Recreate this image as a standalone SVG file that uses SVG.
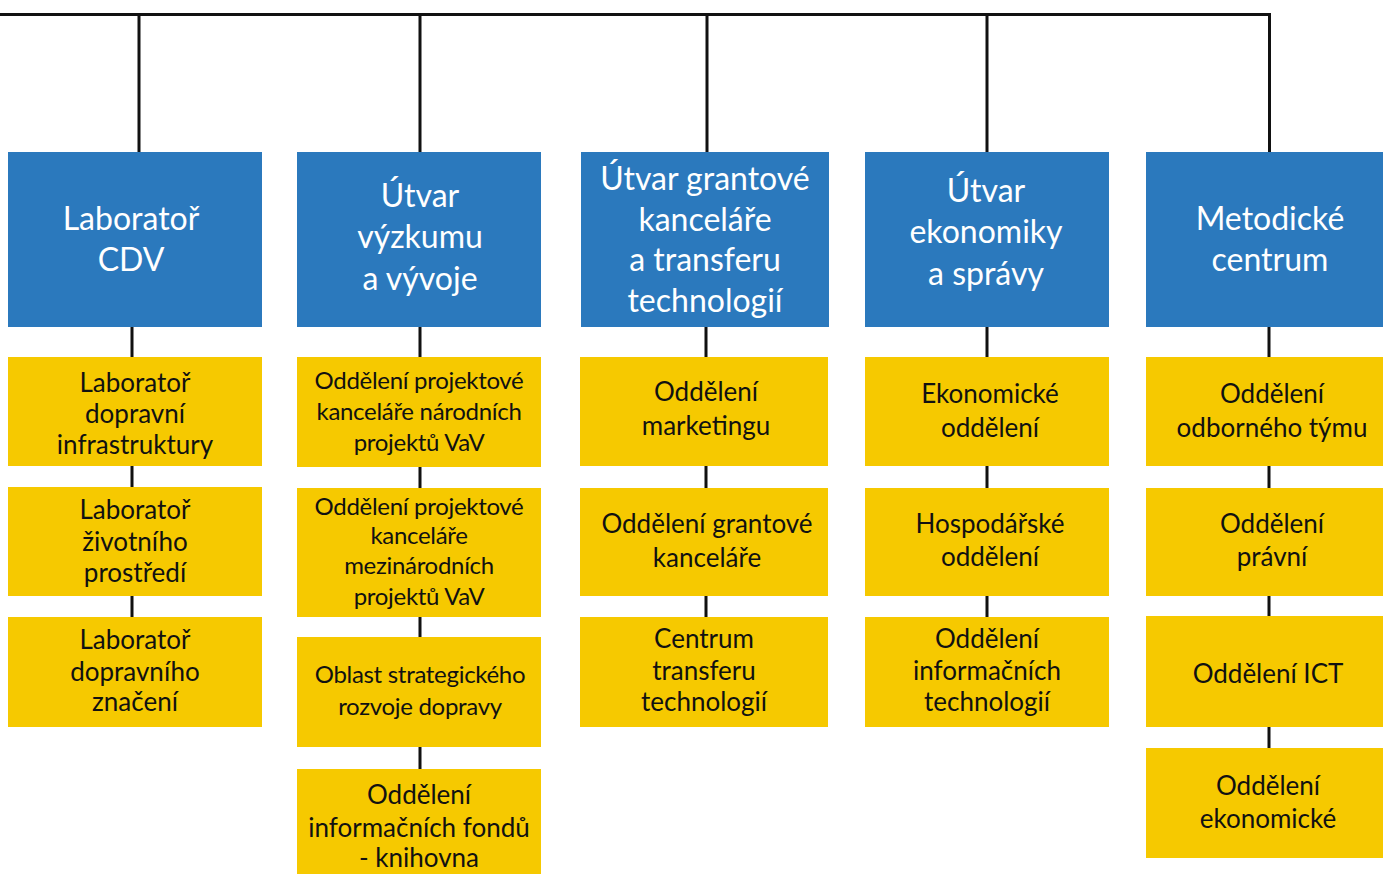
<svg xmlns="http://www.w3.org/2000/svg" width="1383" height="874" viewBox="0 0 1383 874">
<style>
.b{fill:#2B79BD}
.y{fill:#F6C900}
.bt{font-family:Lato,"Noto Sans",sans-serif;font-size:32px;fill:#fff;text-anchor:middle}
.yt{font-family:Lato,"Noto Sans",sans-serif;font-size:26px;fill:#111;text-anchor:middle}
.yc{font-family:Lato,"Noto Sans",sans-serif;font-size:24px;fill:#111;text-anchor:middle;letter-spacing:-0.3px}
.c{stroke:#111;stroke-width:3;fill:none}
</style>
<rect width="1383" height="874" fill="#fff"/>
<g id="connectors">
<path class="c" d="M0 14.5H1269.5V152M139 14.5V152M420 14.5V152M707 14.5V152M987 14.5V152"/>
<path class="c" d="M132 326V617M420 326V769M706 326V617M987 326V617M1269 326V748"/>
</g>
<g id="n1"><rect class="b" x="8" y="152" width="254" height="175"/><text class="bt" x="131"><tspan x="131" y="230">Laboratoř</tspan><tspan x="131" y="271">CDV</tspan></text></g>
<g id="n2"><rect class="b" x="297" y="152" width="244" height="175"/><text class="bt"><tspan x="420" y="207">Útvar</tspan><tspan x="420" y="248">výzkumu</tspan><tspan x="420" y="290">a vývoje</tspan></text></g>
<g id="n3"><rect class="b" x="581" y="152" width="248" height="175"/><text class="bt"><tspan x="705" y="190">Útvar grantové</tspan><tspan x="705" y="231">kanceláře</tspan><tspan x="705" y="271">a transferu</tspan><tspan x="705" y="312">technologií</tspan></text></g>
<g id="n4"><rect class="b" x="865" y="152" width="244" height="175"/><text class="bt"><tspan x="986" y="202">Útvar</tspan><tspan x="986" y="243">ekonomiky</tspan><tspan x="986" y="285">a správy</tspan></text></g>
<g id="n5"><rect class="b" x="1146" y="152" width="237" height="175"/><text class="bt"><tspan x="1270" y="230">Metodické</tspan><tspan x="1270" y="271">centrum</tspan></text></g>

<g id="n1a"><rect class="y" x="8" y="357" width="254" height="109"/><text class="yt"><tspan x="135" y="392">Laboratoř</tspan><tspan x="135" y="423">dopravní</tspan><tspan x="135" y="454">infrastruktury</tspan></text></g>
<g id="n1b"><rect class="y" x="8" y="487" width="254" height="109"/><text class="yt"><tspan x="135" y="519">Laboratoř</tspan><tspan x="135" y="551">životního</tspan><tspan x="135" y="582">prostředí</tspan></text></g>
<g id="n1c"><rect class="y" x="8" y="617" width="254" height="110"/><text class="yt"><tspan x="135" y="649">Laboratoř</tspan><tspan x="135" y="681">dopravního</tspan><tspan x="135" y="711">značení</tspan></text></g>

<g id="n2a"><rect class="y" x="297" y="357" width="244" height="110"/><text class="yc"><tspan x="419" y="389">Oddělení projektové</tspan><tspan x="419" y="420">kanceláře národních</tspan><tspan x="419" y="451">projektů VaV</tspan></text></g>
<g id="n2b"><rect class="y" x="297" y="488" width="244" height="129"/><text class="yc"><tspan x="419" y="515">Oddělení projektové</tspan><tspan x="419" y="544">kanceláře</tspan><tspan x="419" y="574">mezinárodních</tspan><tspan x="419" y="605">projektů VaV</tspan></text></g>
<g id="n2c"><rect class="y" x="297" y="637" width="244" height="110"/><text class="yc"><tspan x="420" y="683">Oblast strategického</tspan><tspan x="420" y="715">rozvoje dopravy</tspan></text></g>
<g id="n2d"><rect class="y" x="297" y="769" width="244" height="105"/><text class="yt"><tspan x="419" y="804">Oddělení</tspan><tspan x="419" y="837">informačních fondů</tspan><tspan x="419" y="867">- knihovna</tspan></text></g>

<g id="n3a"><rect class="y" x="580" y="357" width="248" height="109"/><text class="yt"><tspan x="706" y="401">Oddělení</tspan><tspan x="706" y="435">marketingu</tspan></text></g>
<g id="n3b"><rect class="y" x="580" y="488" width="248" height="108"/><text class="yt"><tspan x="707" y="533">Oddělení grantové</tspan><tspan x="707" y="567">kanceláře</tspan></text></g>
<g id="n3c"><rect class="y" x="580" y="617" width="248" height="110"/><text class="yt"><tspan x="704" y="648">Centrum</tspan><tspan x="704" y="680">transferu</tspan><tspan x="704" y="711">technologií</tspan></text></g>

<g id="n4a"><rect class="y" x="865" y="357" width="244" height="109"/><text class="yt"><tspan x="990" y="403">Ekonomické</tspan><tspan x="990" y="437">oddělení</tspan></text></g>
<g id="n4b"><rect class="y" x="865" y="488" width="244" height="108"/><text class="yt"><tspan x="990" y="533">Hospodářské</tspan><tspan x="990" y="566">oddělení</tspan></text></g>
<g id="n4c"><rect class="y" x="865" y="617" width="244" height="110"/><text class="yt"><tspan x="987" y="648">Oddělení</tspan><tspan x="987" y="680">informačních</tspan><tspan x="987" y="711">technologií</tspan></text></g>

<g id="n5a"><rect class="y" x="1146" y="357" width="237" height="109"/><text class="yt"><tspan x="1272" y="403">Oddělení</tspan><tspan x="1272" y="437">odborného týmu</tspan></text></g>
<g id="n5b"><rect class="y" x="1146" y="488" width="237" height="108"/><text class="yt"><tspan x="1272" y="533">Oddělení</tspan><tspan x="1272" y="566">právní</tspan></text></g>
<g id="n5c"><rect class="y" x="1146" y="616" width="237" height="111"/><text class="yt"><tspan x="1268" y="683">Oddělení ICT</tspan></text></g>
<g id="n5d"><rect class="y" x="1146" y="748" width="237" height="110"/><text class="yt"><tspan x="1268" y="795">Oddělení</tspan><tspan x="1268" y="828">ekonomické</tspan></text></g>
</svg>
